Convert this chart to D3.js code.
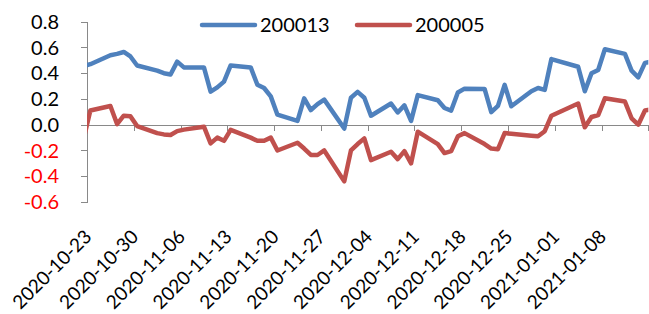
<!DOCTYPE html>
<html>
  <head>
    <meta charset="utf-8">
    <title>200013 vs 200005</title>
    <script src="https://cdn.jsdelivr.net/npm/d3@7"></script>
    <style>

body {
  margin: 0;
  background: #fff;
}

svg {
  font-family: Lato, "Liberation Sans", sans-serif;
  font-size: 20px;
}

.xlabel {
  font-size: 19px;
}

.axis path, .axis line {
  stroke: #898989;
  shape-rendering: crispEdges;
}

.line {
  fill: none;
  stroke-width: 4.5px;
  stroke-linejoin: round;
  stroke-linecap: round;
}

    </style>
  </head>
  <body>
    <script>

// trading days (first one sits just left of the axis and gets clipped)
var dates = [
  "2020-10-22", "2020-10-23",
  "2020-10-26", "2020-10-27", "2020-10-28", "2020-10-29", "2020-10-30",
  "2020-11-02", "2020-11-03", "2020-11-04", "2020-11-05", "2020-11-06",
  "2020-11-09", "2020-11-10", "2020-11-11", "2020-11-12", "2020-11-13",
  "2020-11-16", "2020-11-17", "2020-11-18", "2020-11-19", "2020-11-20",
  "2020-11-23", "2020-11-24", "2020-11-25", "2020-11-26", "2020-11-27",
  "2020-11-30", "2020-12-01", "2020-12-02", "2020-12-03", "2020-12-04",
  "2020-12-07", "2020-12-08", "2020-12-09", "2020-12-10", "2020-12-11",
  "2020-12-14", "2020-12-15", "2020-12-16", "2020-12-17", "2020-12-18",
  "2020-12-21", "2020-12-22", "2020-12-23", "2020-12-24", "2020-12-25",
  "2020-12-28", "2020-12-29", "2020-12-30", "2020-12-31",
  "2021-01-04", "2021-01-05", "2021-01-06", "2021-01-07", "2021-01-08",
  "2021-01-11", "2021-01-12", "2021-01-13", "2021-01-14", "2021-01-15"
];

var s200013 = [
  0.455, 0.47,
  0.54, 0.55, 0.565, 0.53, 0.46,
  0.42, 0.40, 0.39, 0.49, 0.445,
  0.445, 0.257, 0.29, 0.335, 0.46,
  0.445, 0.31, 0.285, 0.22, 0.078,
  0.03, 0.205, 0.114, 0.16, 0.195,
  -0.03, 0.21, 0.255, 0.21, 0.07,
  0.165, 0.095, 0.15, 0.03, 0.23,
  0.19, 0.13, 0.11, 0.25, 0.28,
  0.278, 0.098, 0.146, 0.31, 0.143,
  0.26, 0.285, 0.27, 0.51,
  0.45, 0.26, 0.40, 0.425, 0.586,
  0.55, 0.42, 0.368, 0.48, 0.49
];

var s200005 = [
  -0.11, 0.11,
  0.145, 0.005, 0.07, 0.065, -0.01,
  -0.065, -0.075, -0.08, -0.05, -0.038,
  -0.015, -0.145, -0.10, -0.125, -0.04,
  -0.10, -0.125, -0.125, -0.10, -0.20,
  -0.14, -0.185, -0.235, -0.235, -0.20,
  -0.44, -0.20, -0.15, -0.106, -0.275,
  -0.21, -0.267, -0.205, -0.30, -0.054,
  -0.15, -0.22, -0.205, -0.09, -0.065,
  -0.15, -0.185, -0.19, -0.065, -0.07,
  -0.085, -0.09, -0.05, 0.07,
  0.165, -0.02, 0.06, 0.075, 0.205,
  0.18, 0.05, 0.0, 0.11, 0.12
];

var seriesNames = ["200013", "200005"];
var seriesColors = ["#4f81bd", "#c0504d"];

var yTicks = [-0.6, -0.4, -0.2, 0, 0.2, 0.4, 0.6, 0.8];
var yTickLabels = ["-0.6", "-0.4", "-0.2", "0.0", "0.2", "0.4", "0.6", "0.8"];

var xTickLabels = [
  "2020-10-23", "2020-10-30", "2020-11-06", "2020-11-13", "2020-11-20", "2020-11-27",
  "2020-12-04", "2020-12-11", "2020-12-18", "2020-12-25", "2021-01-01", "2021-01-08"
];
var xStart = "2020-10-23", xEnd = "2021-01-15";

var w = 649,
    h = 314,
    parse = d3.utcParse("%Y-%m-%d"),
    x = d3.scaleUtc().domain([parse(xStart), parse(xEnd)]).range([87, 648.3]),
    y = d3.scaleLinear().domain([-0.6, 0.8]).range([202, 21.7]);

// points sit in the middle of each day slot
function mid(s) { return d3.utcHour.offset(parse(s), 12); }

var svg = d3.select("body").append("svg")
    .attr("width", w)
    .attr("height", h);

svg.append("clipPath")
    .attr("id", "plot")
  .append("rect")
    .attr("x", x.range()[0])
    .attr("y", 0)
    .attr("width", x.range()[1] - x.range()[0])
    .attr("height", h);

// y axis
svg.append("g")
    .attr("class", "axis")
    .attr("transform", "translate(" + x.range()[0] + ",0)")
    .call(d3.axisLeft(y).tickValues(yTicks).tickSize(6).tickSizeOuter(0).tickFormat(""));

svg.append("g").selectAll("text")
    .data(yTicks)
  .enter().append("text")
    .attr("x", 59)
    .attr("y", function(d) { return y(d); })
    .attr("dy", ".36em")
    .attr("text-anchor", "end")
    .attr("fill", function(d) { return d < 0 ? "#ff0000" : "#000"; })
    .text(function(d, i) { return yTickLabels[i]; });

// x axis on the zero line, a tick every 7 days
var weekTicks = d3.range(13).map(function(i) { return d3.utcDay.offset(parse(xStart), 7 * i); });

svg.append("g")
    .attr("class", "axis")
    .attr("transform", "translate(0," + y(0) + ")")
    .call(d3.axisBottom(x).tickValues(weekTicks).tickSize(6).tickSizeOuter(0).tickFormat(""));

svg.append("g").selectAll("text")
    .data(xTickLabels)
  .enter().append("text")
    .attr("class", "xlabel")
    .attr("transform", function(d) { return "translate(" + (x(parse(d)) + 1) + ",233) rotate(-45)"; })
    .attr("dy", ".36em")
    .attr("text-anchor", "end")
    .attr("fill", "#000")
    .text(function(d) { return d; });

// lines
var line = d3.line()
    .x(function(d) { return x(mid(d.date)); })
    .y(function(d) { return y(d.v); });

[s200013, s200005].forEach(function(vals, k) {
  svg.append("path")
      .datum(dates.map(function(dt, i) { return {date: dt, v: vals[i]}; }))
      .attr("class", "line")
      .attr("clip-path", "url(#plot)")
      .attr("stroke", seriesColors[k])
      .attr("d", line);
});

// legend
var legendX = [202, 357];

var legend = svg.append("g").selectAll("g")
    .data(seriesNames)
  .enter().append("g")
    .attr("transform", function(d, i) { return "translate(" + legendX[i] + ",25)"; });

legend.append("line")
    .attr("x1", 0)
    .attr("x2", 53)
    .attr("stroke", function(d, i) { return seriesColors[i]; })
    .attr("stroke-width", 4.5)
    .attr("stroke-linecap", "round");

legend.append("text")
    .attr("x", 58)
    .attr("dy", ".36em")
    .attr("fill", "#000")
    .text(function(d) { return d; });

    </script>
  </body>
</html>
